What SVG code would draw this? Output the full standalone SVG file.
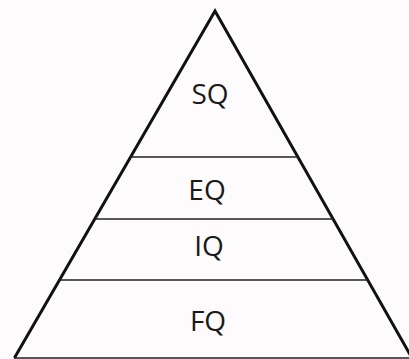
<svg xmlns="http://www.w3.org/2000/svg" width="409" height="359" viewBox="0 0 409 359">
  <style>
    .edge { fill: none; stroke: #111; stroke-width: 3; stroke-linejoin: miter; }
    .div { stroke: #222; stroke-width: 1.6; }
    .lbl { font-family: "Open Sans", "Liberation Sans", sans-serif; font-size: 28px; fill: #1a1a1a; text-anchor: middle; }
  </style>
  <rect width="409" height="359" fill="#fdfbfb"/>
  <g id="pyramid-outline">
    <path class="edge" d="M14.4,358 L215,11 L412,358"/>
    <line class="div" x1="14" y1="358" x2="409" y2="358" stroke-width="2"/>
  </g>
  <g id="connectors">
    <line class="div" x1="130.6" y1="157" x2="297.9" y2="157"/>
    <line class="div" x1="94.8" y1="219" x2="333.1" y2="219"/>
    <line class="div" x1="59.5" y1="280" x2="367.8" y2="280"/>
  </g>
  <g id="SQ"><text class="lbl" x="210" y="104">SQ</text></g>
  <g id="EQ"><text class="lbl" x="207" y="200">EQ</text></g>
  <g id="IQ"><text class="lbl" x="209" y="256">IQ</text></g>
  <g id="FQ"><text class="lbl" x="208" y="331">FQ</text></g>
</svg>
